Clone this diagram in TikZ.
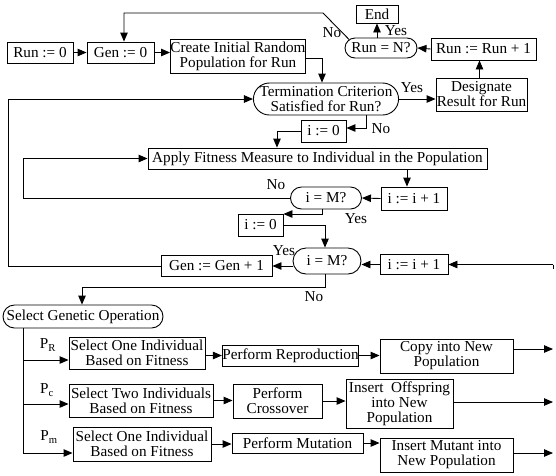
\documentclass[tikz,border=0pt]{standalone}
\usepackage{fontspec}
\setmainfont{Liberation Serif}
\usetikzlibrary{shapes.misc,arrows.meta}
\begin{document}
\begin{tikzpicture}[x=1pt,y=-1pt,
  every node/.style={font=\fontsize{15.2}{15}\selectfont},
  bx/.style={draw, line width=0.9pt, inner sep=0pt, align=center},
  oval/.style={draw, line width=0.9pt, rounded rectangle, inner sep=0pt, align=center},
  lbl/.style={inner sep=0pt},
  conn/.style={line width=0.9pt},
  arr/.style={conn, -{Triangle[length=9pt,width=7.5pt]}}]
\useasboundingbox (0,0) rectangle (556,475);

% ---- nodes ----
\node[bx, minimum width=66pt, minimum height=21pt] (run0) at (40,52.5) {Run := 0};
\node[bx, minimum width=67pt, minimum height=21pt] (gen0) at (120.5,52.5) {Gen := 0};
\node[bx, minimum width=133pt, minimum height=34pt] (create) at (238,56) {Create Initial Random\\Population for Run};
\node[bx, minimum width=42pt, minimum height=18pt] (end) at (377,14) {End};
\node[oval, minimum width=72pt, minimum height=20pt] (runN) at (381,48) {Run = N?};
\node[bx, minimum width=105pt, minimum height=22pt] (runinc) at (483.5,49) {Run := Run + 1};
\node[bx, minimum width=91pt, minimum height=33pt] (desig) at (481.5,94.5) {Designate\\Result for Run};
\node[oval, minimum width=143pt, minimum height=32pt] (term) at (326,99) {Termination Criterion\\Satisfied for Run?};
\node[bx, minimum width=45pt, minimum height=22pt] (i0a) at (323.5,131) {i := 0};
\node[bx, minimum width=339pt, minimum height=21pt] (apply) at (317.5,158.5) {Apply Fitness Measure to Individual in the Population};
\node[bx, minimum width=66pt, minimum height=23pt] (iinc1) at (414,198.5) {i := i + 1};
\node[oval, minimum width=71pt, minimum height=22pt] (iM1) at (326,198) {i = M?};
\node[bx, minimum width=45pt, minimum height=22pt] (i0b) at (260.5,225) {i := 0};
\node[oval, minimum width=68pt, minimum height=26pt] (iM2) at (327,261) {i = M?};
\node[bx, minimum width=68pt, minimum height=20pt] (iinc2) at (414,264.5) {i := i + 1};
\node[bx, minimum width=111pt, minimum height=21pt] (geninc) at (216.5,266) {Gen := Gen + 1};
\node[oval, minimum width=160pt, minimum height=23pt] (select) at (83,316.5) {Select Genetic Operation};
\node[bx, minimum width=136pt, minimum height=32pt] (s1) at (137,353) {Select One Individual\\Based on Fitness};
\node[bx, minimum width=135pt, minimum height=21pt] (rep) at (290.5,355.5) {Perform Reproduction};
\node[bx, minimum width=133pt, minimum height=34pt] (copy) at (446.5,356) {Copy into New\\Population};
\node[bx, minimum width=144pt, minimum height=33pt] (s2) at (141,400.5) {Select Two Individuals\\Based on Fitness};
\node[bx, minimum width=89pt, minimum height=34pt] (cross) at (277.5,401) {Perform\\Crossover};
\node[bx, minimum width=107pt, minimum height=49pt] (offs) at (399.5,403.5) {Insert \ Offspring\\into New\\Population};
\node[bx, minimum width=138pt, minimum height=34pt] (s3) at (142,444) {Select One Individual\\Based on Fitness};
\node[bx, minimum width=131pt, minimum height=20pt] (mut) at (297.5,443) {Perform Mutation};
\node[bx, minimum width=133pt, minimum height=34pt] (mutant) at (446.5,455) {Insert Mutant into\\New Population};

% ---- labels ----
\node[lbl] (lNo1) at (332,33) {No};
\node[lbl] (lYes1) at (396,31) {Yes};
\node[lbl] (lYes2) at (412,88) {Yes};
\node[lbl] (lNo2) at (381,129) {No};
\node[lbl] (lNo3) at (276,185) {No};
\node[lbl] (lYes3) at (356,219) {Yes};
\node[lbl] (lYes4) at (284,251) {Yes};
\node[lbl] (lNo4) at (314,297) {No};
\node[lbl] (lPR) at (48,345) {P\textsubscript{R}};
\node[lbl] (lPc) at (47,390) {P\textsubscript{c}};
\node[lbl] (lPm) at (49,437) {P\textsubscript{m}};

% ---- coordinates ----
\coordinate (topA) at (323,13);
\coordinate (topB) at (124,13);
\coordinate (cr1) at (322,58);
\coordinate (t1) at (366,128);
\coordinate (ia1) at (277,131);
\coordinate (ap1) at (407,0);
\coordinate (lpA) at (23,198);
\coordinate (lpB) at (23,158.5);
\coordinate (m1a) at (322,214);
\coordinate (gl1) at (8,266);
\coordinate (gl2) at (8,99);
\coordinate (m2a) at (325,287);
\coordinate (m2b) at (82,287);
\coordinate (br) at (23,453);
\coordinate (bR) at (23,360);
\coordinate (bC) at (23,404);
\coordinate (rt) at (553,264.5);
\coordinate (o1) at (553,349);
\coordinate (o2) at (553,402);
\coordinate (o3) at (553,453);

% ---- connectors ----
\draw[arr] (run0.east) -- (gen0.west);
\draw[arr] (gen0.east) -- (create.west |- gen0.east);
\draw[arr] (runN.165) -- (topA) -- (topB) -- (topB |- gen0.north);
\draw[arr] (end.south |- runN.north) -- (end.south);
\draw[arr] (runinc.west) -- (runN.east);
\draw[arr] ([xshift=-2pt]desig.north) -- ([xshift=-2pt]desig.north |- runinc.south);
\draw[arr] (term.east) -- (desig.west |- term.east);
\draw[arr] (create.east |- cr1) -- (cr1) -- (cr1 |- term.north);
\draw[arr] (t1 |- term.south) -- (t1) -- (i0a.east |- t1);
\draw[arr] (i0a.west) -- (ia1) -- (ia1 |- apply.north);
\draw[arr] (ap1 |- apply.south) -- (ap1 |- iinc1.north);
\draw[arr] (iinc1.west) -- (iM1.east);
\draw[arr] (iM1.west) -- (lpA) -- (lpB) -- (apply.west);
\draw[arr] (m1a |- iM1.south) -- (m1a) -- (i0b.east |- m1a);
\draw[arr] (i0b.east) -- (m2a |- i0b.east) -- (m2a |- iM2.north);
\draw[arr] (iinc2.west) -- (iM2.east |- iinc2.west);
\draw[arr] (rt) -- (iinc2.east);
\draw[conn] (rt) -- ++(0,4);
\draw[arr] (iM2.west |- geninc.east) -- (geninc.east);
\draw[arr] (geninc.west) -- (gl1) -- (gl2) -- (term.west);
\draw[arr] (m2a |- iM2.south) -- (m2a) -- (m2b) -- (m2b |- select.north);
\draw[conn] (br |- select.south) -- (br);
\draw[arr] (bR) -- (s1.west |- bR);
\draw[arr] (bC) -- (s2.west |- bC);
\draw[arr] (br) -- (s3.west |- br);
\draw[arr] (s1.east |- rep.west) -- (rep.west);
\draw[arr] (rep.east) -- (copy.west |- rep.east);
\draw[arr] (copy.east |- o1) -- (o1);
\draw[arr] (s2.east) -- (cross.west |- s2.east);
\draw[arr] (cross.east) -- (offs.west |- cross.east);
\draw[arr] (offs.east |- o2) -- (o2);
\draw[arr] (s3.east) -- (mut.west |- s3.east);
\draw[arr] (mut.east) -- (mutant.west |- mut.east);
\draw[arr] (mutant.east |- o3) -- (o3);
\end{tikzpicture}
\end{document}
